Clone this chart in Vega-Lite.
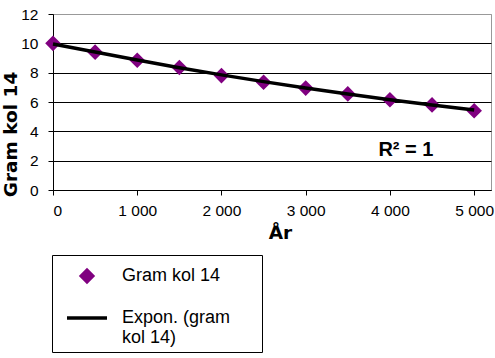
{
  "$schema": "https://vega.github.io/schema/vega-lite/v6.json",
  "width": 438,
  "height": 176,
  "autosize": {"type": "none"},
  "padding": {"left": 53, "top": 14, "right": 4, "bottom": 168},
  "background": "white",
  "config": {
    "font": "Liberation Sans",
    "view": {"stroke": "#999999", "strokeWidth": 1},
    "axis": {
      "labelFont": "Liberation Sans",
      "labelFontSize": 15.5,
      "labelColor": "black",
      "titleFont": "DejaVu Sans",
      "titleFontWeight": "bold",
      "titleFontSize": 18.5,
      "titleColor": "black",
      "domainColor": "black",
      "tickColor": "black",
      "tickSize": 5,
      "labelOverlap": false
    },
    "legend": {
      "orient": "none",
      "legendX": -1,
      "legendY": 241,
      "strokeColor": "black",
      "padding": 5,
      "symbolOffset": 8,
      "titleFontSize": 5,
      "titlePadding": 2,
      "labelFont": "Liberation Sans",
      "labelFontSize": 18,
      "labelColor": "black",
      "rowPadding": 7,
      "labelOffset": 13,
      "labelLimit": 300,
      "symbolStrokeWidth": 3.5
    }
  },
  "datasets": {
    "pts": [
      {"series": "Gram kol 14", "ar": 0, "gram": 10},
      {"series": "Gram kol 14", "ar": 500, "gram": 9.4},
      {"series": "Gram kol 14", "ar": 1000, "gram": 8.85},
      {"series": "Gram kol 14", "ar": 1500, "gram": 8.35},
      {"series": "Gram kol 14", "ar": 2000, "gram": 7.8},
      {"series": "Gram kol 14", "ar": 2500, "gram": 7.35},
      {"series": "Gram kol 14", "ar": 3000, "gram": 6.95},
      {"series": "Gram kol 14", "ar": 3500, "gram": 6.55},
      {"series": "Gram kol 14", "ar": 4000, "gram": 6.15},
      {"series": "Gram kol 14", "ar": 4500, "gram": 5.8},
      {"series": "Gram kol 14", "ar": 5000, "gram": 5.4},
      {"series": "Expon. (gram kol 14)", "ar": 0, "gram": 9.95},
      {"series": "Expon. (gram kol 14)", "ar": 500, "gram": 9.41},
      {"series": "Expon. (gram kol 14)", "ar": 1000, "gram": 8.86},
      {"series": "Expon. (gram kol 14)", "ar": 1500, "gram": 8.34},
      {"series": "Expon. (gram kol 14)", "ar": 2000, "gram": 7.85},
      {"series": "Expon. (gram kol 14)", "ar": 2500, "gram": 7.39},
      {"series": "Expon. (gram kol 14)", "ar": 3000, "gram": 6.96},
      {"series": "Expon. (gram kol 14)", "ar": 3500, "gram": 6.55},
      {"series": "Expon. (gram kol 14)", "ar": 4000, "gram": 6.16},
      {"series": "Expon. (gram kol 14)", "ar": 4500, "gram": 5.8},
      {"series": "Expon. (gram kol 14)", "ar": 5000, "gram": 5.46}
    ],
    "ann": [{"ar": 4190, "gram": 2.75, "label": "R² = 1"}]
  },
  "layer": [
    {
      "data": {"name": "pts"},
      "transform": [{"filter": "datum.series == 'Gram kol 14'"}],
      "mark": {"type": "point", "filled": false, "fill": "#800080", "strokeWidth": 3, "opacity": 1},
      "encoding": {
        "x": {
          "field": "ar", "type": "quantitative",
          "scale": {"domain": [0, 5200], "nice": false},
          "axis": {
            "title": "År",
            "grid": false,
            "values": [0, 1000, 2000, 3000, 4000, 5000],
            "labelExpr": "replace(format(datum.value, ',d'), ',', ' ')",
            "labelPadding": 8,
            "titleX": 227,
            "titleY": 42,
            "titleBaseline": "middle",
            "titleAlign": "center"
          }
        },
        "y": {
          "field": "gram", "type": "quantitative",
          "scale": {"domain": [0, 12], "nice": false},
          "axis": {
            "title": "Gram kol 14",
            "values": [0, 2, 4, 6, 8, 10, 12],
            "tickCount": 7,
            "grid": true,
            "gridColor": {"condition": {"test": "datum.value == 12", "value": "#999999"}, "value": "black"},
            "gridOpacity": 1,
            "labelPadding": 10,
            "titleX": -43,
            "titleY": 120,
            "titleAngle": -90,
            "titleBaseline": "middle",
            "titleAlign": "center"
          }
        },
        "color": {
          "field": "series", "type": "nominal",
          "scale": {"domain": ["Gram kol 14", "Expon. (gram kol 14)"], "range": ["#800080", "#000000"]},
          "legend": {
            "title": "\u00a0",
            "labelExpr": "datum.label == 'Expon. (gram kol 14)' ? ['Expon. (gram\u2800\u2800', 'kol 14)'] : datum.label"
          }
        },
        "shape": {
          "field": "series", "type": "nominal",
          "scale": {"domain": ["Gram kol 14", "Expon. (gram kol 14)"], "range": ["diamond", "stroke"]},
          "legend": {
            "title": "\u00a0",
            "labelExpr": "datum.label == 'Expon. (gram kol 14)' ? ['Expon. (gram\u2800\u2800', 'kol 14)'] : datum.label"
          }
        },
        "size": {
          "field": "series", "type": "nominal",
          "scale": {"domain": ["Gram kol 14", "Expon. (gram kol 14)"], "range": [130, 1600]},
          "legend": {
            "title": "\u00a0",
            "labelExpr": "datum.label == 'Expon. (gram kol 14)' ? ['Expon. (gram\u2800\u2800', 'kol 14)'] : datum.label"
          }
        }
      }
    },
    {
      "data": {"name": "pts"},
      "transform": [{"filter": "datum.series != 'Gram kol 14'"}],
      "mark": {"type": "line", "strokeWidth": 3.5},
      "encoding": {
        "x": {"field": "ar", "type": "quantitative"},
        "y": {"field": "gram", "type": "quantitative"},
        "color": {"field": "series", "type": "nominal"}
      }
    },
    {
      "data": {"name": "ann"},
      "mark": {"type": "text", "fontWeight": "bold", "fontSize": 20, "font": "Liberation Sans", "color": "black"},
      "encoding": {
        "x": {"field": "ar", "type": "quantitative"},
        "y": {"field": "gram", "type": "quantitative"},
        "text": {"field": "label"}
      }
    }
  ]
}
